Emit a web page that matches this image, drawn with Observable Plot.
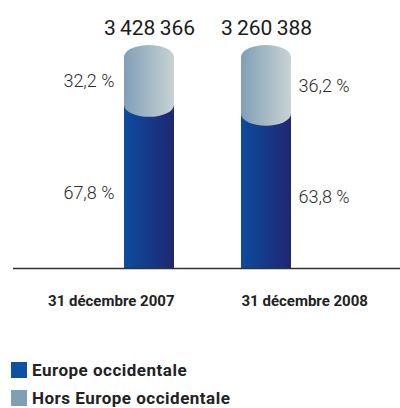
<!DOCTYPE html>
<html>
<head>
<meta charset="utf-8">
<script src="https://cdn.jsdelivr.net/npm/d3@7"></script>
<script src="https://cdn.jsdelivr.net/npm/@observablehq/plot@0.6"></script>
<style>
  body { margin: 0; background: #fff; font-family: Roboto, "DejaVu Sans", sans-serif; overflow: hidden; }
  #legend { margin-top: 26px; padding-left: 11px; font-weight: 700; font-size: 17px; letter-spacing: 0.5px; color: #222; }
  .item { display: flex; align-items: center; height: 28px; }
  .sw { width: 16px; height: 16px; margin-right: 5px; }
</style>
</head>
<body>
<div id="chart"></div>
<div id="legend"></div>
<script>
const dates = ["31 décembre 2007", "31 décembre 2008"];
const totals = [3428366, 3260388];
const europe = [67.8, 63.8];
const horsEurope = [32.2, 36.2];
const seriesNames = ["Europe occidentale", "Hors Europe occidentale"];
const seriesColors = ["#0a52a3", "#7f9fb5"];

const data = dates.map((d, i) => ({
  date: d, idx: i, total: totals[i], europe: europe[i], hors: horsEurope[i],
  top: europe[i] + horsEurope[i]
}));

const fmtPct = v => d3.format(".1f")(v).replace(".", ",") + "\u00a0%";
const fmtTot = v => d3.format(",")(v).replace(/,/g, "\u2009");

const defs = () => {
  const g = d3.create("svg:defs");
  const a = g.append("linearGradient").attr("id", "gDark").attr("x1", "0").attr("x2", "1").attr("y1", "0").attr("y2", "0");
  a.append("stop").attr("offset", "0").attr("stop-color", "#0c4c9f");
  a.append("stop").attr("offset", "1").attr("stop-color", "#1f2771");
  const b = g.append("linearGradient").attr("id", "gLight").attr("x1", "0").attr("x2", "1").attr("y1", "0").attr("y2", "0");
  b.append("stop").attr("offset", "0").attr("stop-color", "#809fb6");
  b.append("stop").attr("offset", "1").attr("stop-color", "#c8d3d5");
  return g.node();
};

const first = d => d.idx === 0;
const second = d => d.idx === 1;
const txt = {fill: "#2a2a2a", fontFamily: "Roboto", fontWeight: 300, fontSize: 18};
const cat = {fontSize: 15, fontWeight: 700, fill: "#222", fontFamily: "Roboto", dy: 33};

const plot = Plot.plot({
  width: 400,
  height: 330,
  marginLeft: 13,
  marginRight: 0,
  marginTop: 0,
  marginBottom: 0,
  x: {type: "band", domain: dates, range: [124, 291], paddingInner: 0.573, paddingOuter: 0, axis: null},
  y: {domain: [0, 100], range: [268, 45], axis: null},
  marks: [
    defs,
    Plot.barY(data, {x: "date", y1: 0, y2: "europe", fill: "url(#gDark)", insetTop: -13}),
    Plot.barY(data, {x: "date", y1: "europe", y2: "top", fill: "url(#gLight)", rx: 25, ry: 12}),
    Plot.ruleY([0], {stroke: "#333", strokeWidth: 1.6}),
    Plot.text(data, {x: "date", y: "top", text: d => fmtTot(d.total), dy: -17, fontSize: 21, fontWeight: 400, fill: "#1a1a1a", fontFamily: "Roboto"}),
    Plot.text(data.filter(first), {x: "date", y: d => d.europe + d.hors / 2, text: d => fmtPct(d.hors), textAnchor: "end", dx: -35, ...txt}),
    Plot.text(data.filter(first), {x: "date", y: d => d.europe / 2, text: d => fmtPct(d.europe), textAnchor: "end", dx: -35, ...txt}),
    Plot.text(data.filter(second), {x: "date", y: d => d.europe + d.hors / 2, text: d => fmtPct(d.hors), textAnchor: "start", dx: 32, ...txt}),
    Plot.text(data.filter(second), {x: "date", y: d => d.europe / 2, text: d => fmtPct(d.europe), textAnchor: "start", dx: 32, ...txt}),
    Plot.text(data.filter(first), {x: "date", y: 0, text: "date", textAnchor: "end", dx: 25, ...cat}),
    Plot.text(data.filter(second), {x: "date", y: 0, text: "date", textAnchor: "start", dx: -25, ...cat})
  ]
});
document.getElementById("chart").appendChild(plot);

const legend = d3.select("#legend");
seriesNames.forEach((n, i) => {
  const it = legend.append("div").attr("class", "item");
  it.append("div").attr("class", "sw").style("background", seriesColors[i]);
  it.append("span").text(n);
});
</script>
</body>
</html>
